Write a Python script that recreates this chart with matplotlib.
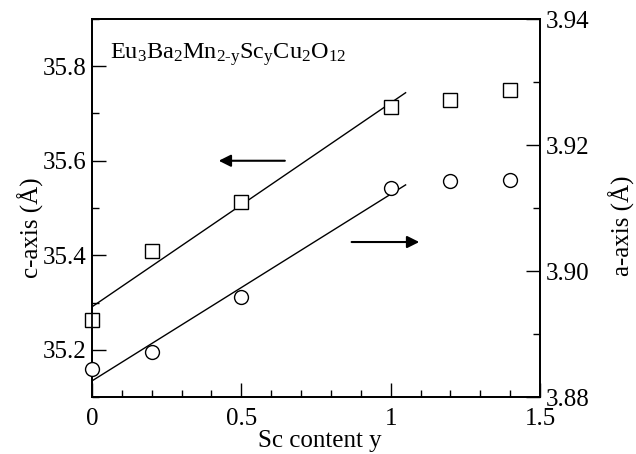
import numpy as np
import matplotlib
matplotlib.use("Agg")
import matplotlib.pyplot as plt
from matplotlib.ticker import MultipleLocator, FormatStrFormatter

plt.rcParams['font.family'] = ['Liberation Serif', 'DejaVu Serif']
plt.rcParams['mathtext.fontset'] = 'custom'
plt.rcParams['mathtext.rm'] = 'Liberation Serif'
plt.rcParams['mathtext.it'] = 'Liberation Serif'

# Sc content y
sc_content = [0.0, 0.2, 0.5, 1.0, 1.2, 1.4]
# c-axis lattice parameter (Å), left scale
c_axis = [35.263, 35.408, 35.513, 35.713, 35.728, 35.749]
# a-axis lattice parameter (Å), right scale
a_axis = [3.8844, 3.8871, 3.8959, 3.9132, 3.9143, 3.9144]

fig = plt.figure(figsize=(6.36, 4.54), dpi=100)
ax = fig.add_axes([92/636, 1 - 397/454, 448/636, 378/454])
ax2 = ax.twinx()

fs = 18
mk = dict(markersize=10, markerfacecolor='white', markeredgecolor='black',
          markeredgewidth=1.0, linestyle='none', clip_on=False, zorder=5)

# linear fits over the single-phase region (y <= 1)
xfit = np.array([0.0, 1.05])
pc = np.polyfit(sc_content[:4], c_axis[:4], 1)
pa = np.polyfit(sc_content[:4], a_axis[:4], 1)
ax.plot(xfit, np.polyval(pc, xfit), color='black', lw=1.0)
ax2.plot(xfit, np.polyval(pa, xfit), color='black', lw=1.0)

ax.plot(sc_content, c_axis, marker='s', **mk)
ax2.plot(sc_content, a_axis, marker='o', **mk)

ax.set_xlim(0, 1.5)
ax.set_ylim(35.1, 35.9)
ax2.set_ylim(3.88, 3.94)

ax.xaxis.set_major_locator(MultipleLocator(0.5))
ax.xaxis.set_minor_locator(MultipleLocator(0.1))
ax.xaxis.set_major_formatter(plt.FuncFormatter(lambda v, p: f"{v:g}"))
ax.yaxis.set_major_locator(MultipleLocator(0.2))
ax.yaxis.set_minor_locator(MultipleLocator(0.1))
ax.yaxis.set_major_formatter(FormatStrFormatter('%.1f'))
ax2.yaxis.set_major_locator(MultipleLocator(0.02))
ax2.yaxis.set_minor_locator(MultipleLocator(0.01))
ax2.yaxis.set_major_formatter(FormatStrFormatter('%.2f'))

for a in (ax, ax2):
    a.tick_params(which='major', direction='in', length=10, width=1.0,
                  labelsize=fs, pad=4)
    a.tick_params(which='minor', direction='in', length=5, width=1.0)
    for s in a.spines.values():
        s.set_linewidth(1.3)
ax.tick_params(axis='x', which='major', pad=8)
ax.tick_params(top=False, right=False, which='both')
ax2.tick_params(left=False, which='both')

# axis titles placed in figure pixels
W, H = 636, 454
fig.text(320 / W, 1 - 441 / H, 'Sc content y', fontsize=fs,
         ha='center', va='center')
fig.text(31 / W, 1 - 228 / H, 'c-axis (Å)', fontsize=fs,
         ha='center', va='center', rotation=90)
fig.text(622 / W, 1 - 226 / H, 'a-axis (Å)', fontsize=fs,
         ha='center', va='center', rotation=90)

ax.text(0.04, 0.905,
        r'Eu$_3$Ba$_2$Mn$_{2\text{-}y}$Sc$_y$Cu$_2$O$_{12}$',
        transform=ax.transAxes, fontsize=17.5, ha='left', va='center')

arrow = dict(arrowstyle='-|>', color='black', lw=1.5, mutation_scale=18)
ax.annotate('', xy=(0.415, 35.6), xytext=(0.655, 35.6), arrowprops=arrow)
ax2.annotate('', xy=(1.105, 3.9046), xytext=(0.86, 3.9046), arrowprops=arrow)

fig.savefig('out.png', dpi=100)
